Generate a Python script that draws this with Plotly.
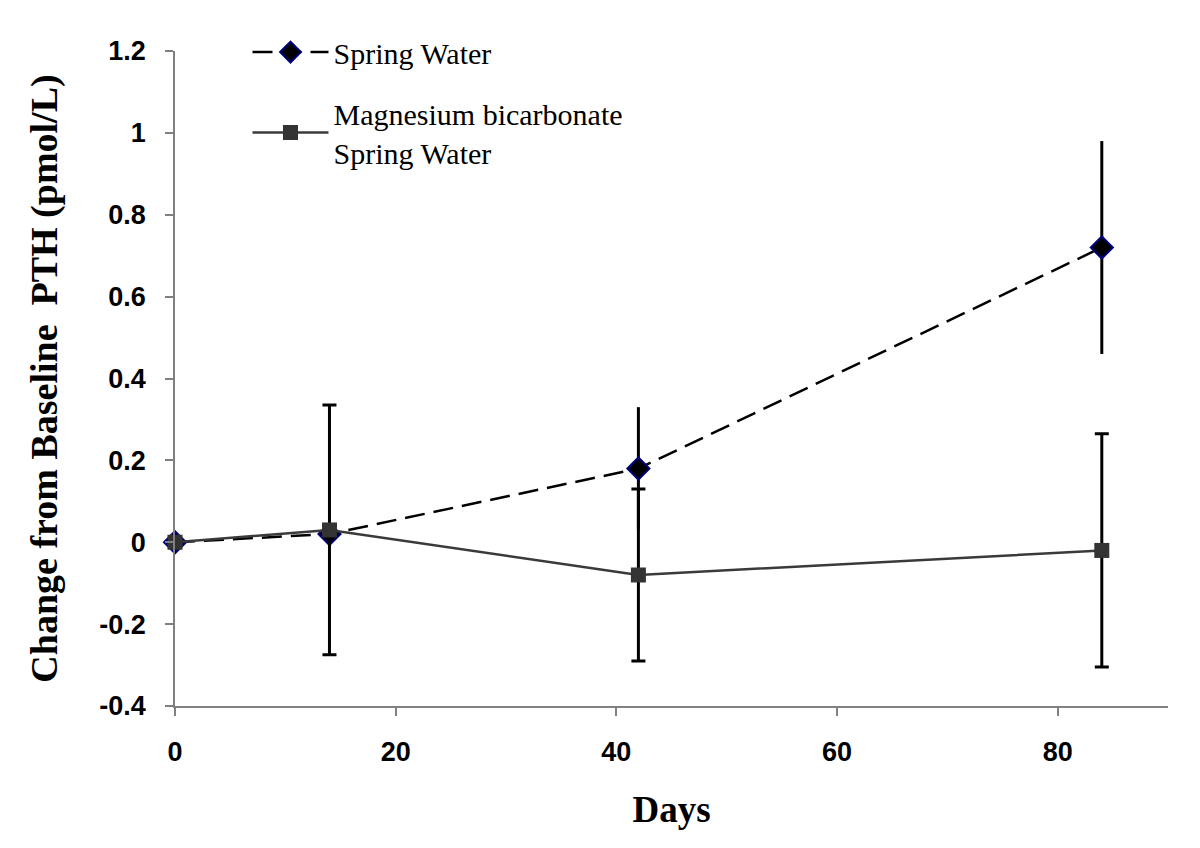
import plotly.graph_objects as go

days = [0, 14, 42, 84]
spring = [0.0, 0.02, 0.18, 0.72]
spring_err = [0.0, 0.0, 0.15, 0.26]
mag = [0.0, 0.03, -0.08, -0.02]
mag_err = [0.0, 0.305, 0.21, 0.285]

y_ticks = [-0.4, -0.2, 0, 0.2, 0.4, 0.6, 0.8, 1.0, 1.2]
y_ticktext = ["-0.4", "-0.2", "0", "0.2", "0.4", "0.6", "0.8", "1", "1.2"]
x_ticks = [0, 20, 40, 60, 80]
x_ticktext = ["0", "20", "40", "60", "80"]

fig = go.Figure()
fig.add_trace(go.Scatter(
    x=days, y=spring, name="Spring Water", mode="lines+markers",
    line=dict(color="black", width=2.5, dash="20px,9px"),
    marker=dict(symbol="diamond", size=17, color="black",
                line=dict(color="#000080", width=2)),
    error_y=dict(type="data", array=spring_err, visible=True,
                 color="black", thickness=3, width=0),
    cliponaxis=False, legendgroup="a",
))
fig.add_trace(go.Scatter(
    x=days, y=mag, name="Magnesium bicarbonate<br>Spring Water",
    mode="lines+markers",
    line=dict(color="#3a3a3a", width=2.5),
    marker=dict(symbol="square", size=15, color="#333333",
                line=dict(color="#333333", width=0)),
    error_y=dict(type="data", array=mag_err, visible=True,
                 color="black", thickness=3, width=7),
    cliponaxis=False, legendgroup="b",
))

fig.update_layout(
    width=1200, height=848,
    margin=dict(l=167, r=40, t=43, b=150),
    paper_bgcolor="white", plot_bgcolor="white",
    showlegend=True,
    legend=dict(x=0.073, y=1.038, xanchor="left", yanchor="top",
                bgcolor="rgba(0,0,0,0)", borderwidth=0,
                font=dict(family="Liberation Serif", size=30, color="black"),
                traceorder="grouped", tracegroupgap=19, itemwidth=76),
    xaxis=dict(range=[0, 90], tickvals=x_ticks, ticktext=x_ticktext,
               showgrid=False, zeroline=False, showline=True,
               linecolor="#808080", linewidth=1.5,
               ticks="outside", ticklen=8, tickcolor="#808080", tickwidth=1.5,
               ticklabelstandoff=13,
               tickfont=dict(family="Liberation Sans", size=27, color="black", weight="bold"),
               title=dict(text="<b>Days</b>", standoff=30,
                          font=dict(family="Liberation Serif", size=37, color="black"))),
    yaxis=dict(range=[-0.4, 1.2], tickvals=y_ticks, ticktext=y_ticktext,
               showgrid=False, zeroline=False, showline=True,
               linecolor="#808080", linewidth=1.5,
               ticks="outside", ticklen=8, tickcolor="#808080", tickwidth=1.5,
               ticklabelstandoff=14,
               tickfont=dict(family="Liberation Sans", size=27, color="black", weight="bold"),
               title=dict(text="<b>Change from Baseline&nbsp; PTH (pmol/L)</b>", standoff=30,
                          font=dict(family="Liberation Serif", size=38, color="black"))),
)

fig.write_html("out.html")
